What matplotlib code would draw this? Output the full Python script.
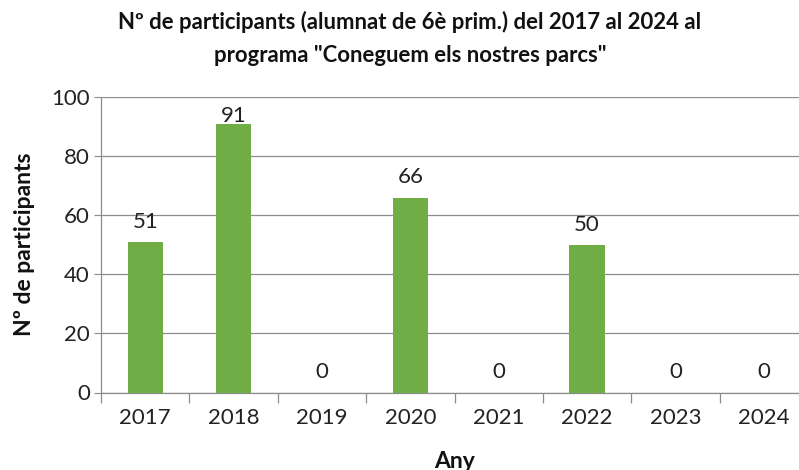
import numpy as np
import matplotlib
matplotlib.use('Agg')
import matplotlib.pyplot as plt

plt.rcParams['font.family'] = ['Lato', 'DejaVu Sans']

# dades
anys = ['2017', '2018', '2019', '2020', '2021', '2022', '2023', '2024']
participants = [51, 91, 0, 66, 0, 50, 0, 0]

W, H = 799, 470
fig = plt.figure(figsize=(W / 100, H / 100), dpi=100)

# àrea del gràfic (en píxels): esquerra 101, dreta ~808 (retallada), dalt 97, baix 392.5
left, right, top, bottom = 101, 808, 97.3, 392.5
ax = fig.add_axes([left / W, 1 - bottom / H, (right - left) / W, (bottom - top) / H])

x = np.arange(len(anys))
ax.bar(x, participants, width=0.4, color='#70AD47', zorder=3)

# etiquetes de dades (com Excel: si no hi caben a dalt, s'enganxen a la barra)
for xi, v in zip(x, participants):
    y_lab = v + 4.8
    if y_lab + 5 > 100:
        y_lab = v + 0.7
    ax.text(xi, y_lab, str(v), ha='center', va='baseline',
            fontsize=16, color='#222222')

ax.set_xlim(-0.5, len(anys) - 0.5)
ax.set_ylim(0, 100)
ax.set_yticks(np.arange(0, 101, 20))
ax.set_xticks(x)
ax.set_xticklabels(anys)
ax.set_xticks(np.arange(-0.5, len(anys), 1), minor=True)

ax.grid(True, axis='y', color='#8c8c8c', linewidth=0.9, zorder=0)
for s in ['top', 'right']:
    ax.spines[s].set_visible(False)
for s in ['left', 'bottom']:
    ax.spines[s].set_color('#8c8c8c')
    ax.spines[s].set_linewidth(0.9)

ax.tick_params(axis='y', length=5, color='#8c8c8c', labelsize=16, pad=3, labelcolor='#222222')
ax.tick_params(axis='x', which='major', length=0, labelsize=16, pad=11, labelcolor='#222222')
ax.tick_params(axis='x', which='minor', length=7, color='#8c8c8c', width=0.9)

fig.text(410 / W, 1 - 22 / H,
         'Nº de participants (alumnat de 6è prim.) del 2017 al 2024 al',
         ha='center', va='center', fontsize=15.9, fontweight='bold', color='#111111')
fig.text(410 / W, 1 - 55 / H,
         'programa "Coneguem els nostres parcs"',
         ha='center', va='center', fontsize=15.9, fontweight='bold', color='#111111')
fig.text(25 / W, 1 - 244 / H, 'Nº de participants', rotation=90,
         ha='center', va='center', fontsize=16.5, fontweight='bold', color='#111111')
fig.text(455 / W, 1 - 461 / H, 'Any', ha='center', va='center',
         fontsize=16.5, fontweight='bold', color='#111111')

fig.savefig('out.png', dpi=100)
